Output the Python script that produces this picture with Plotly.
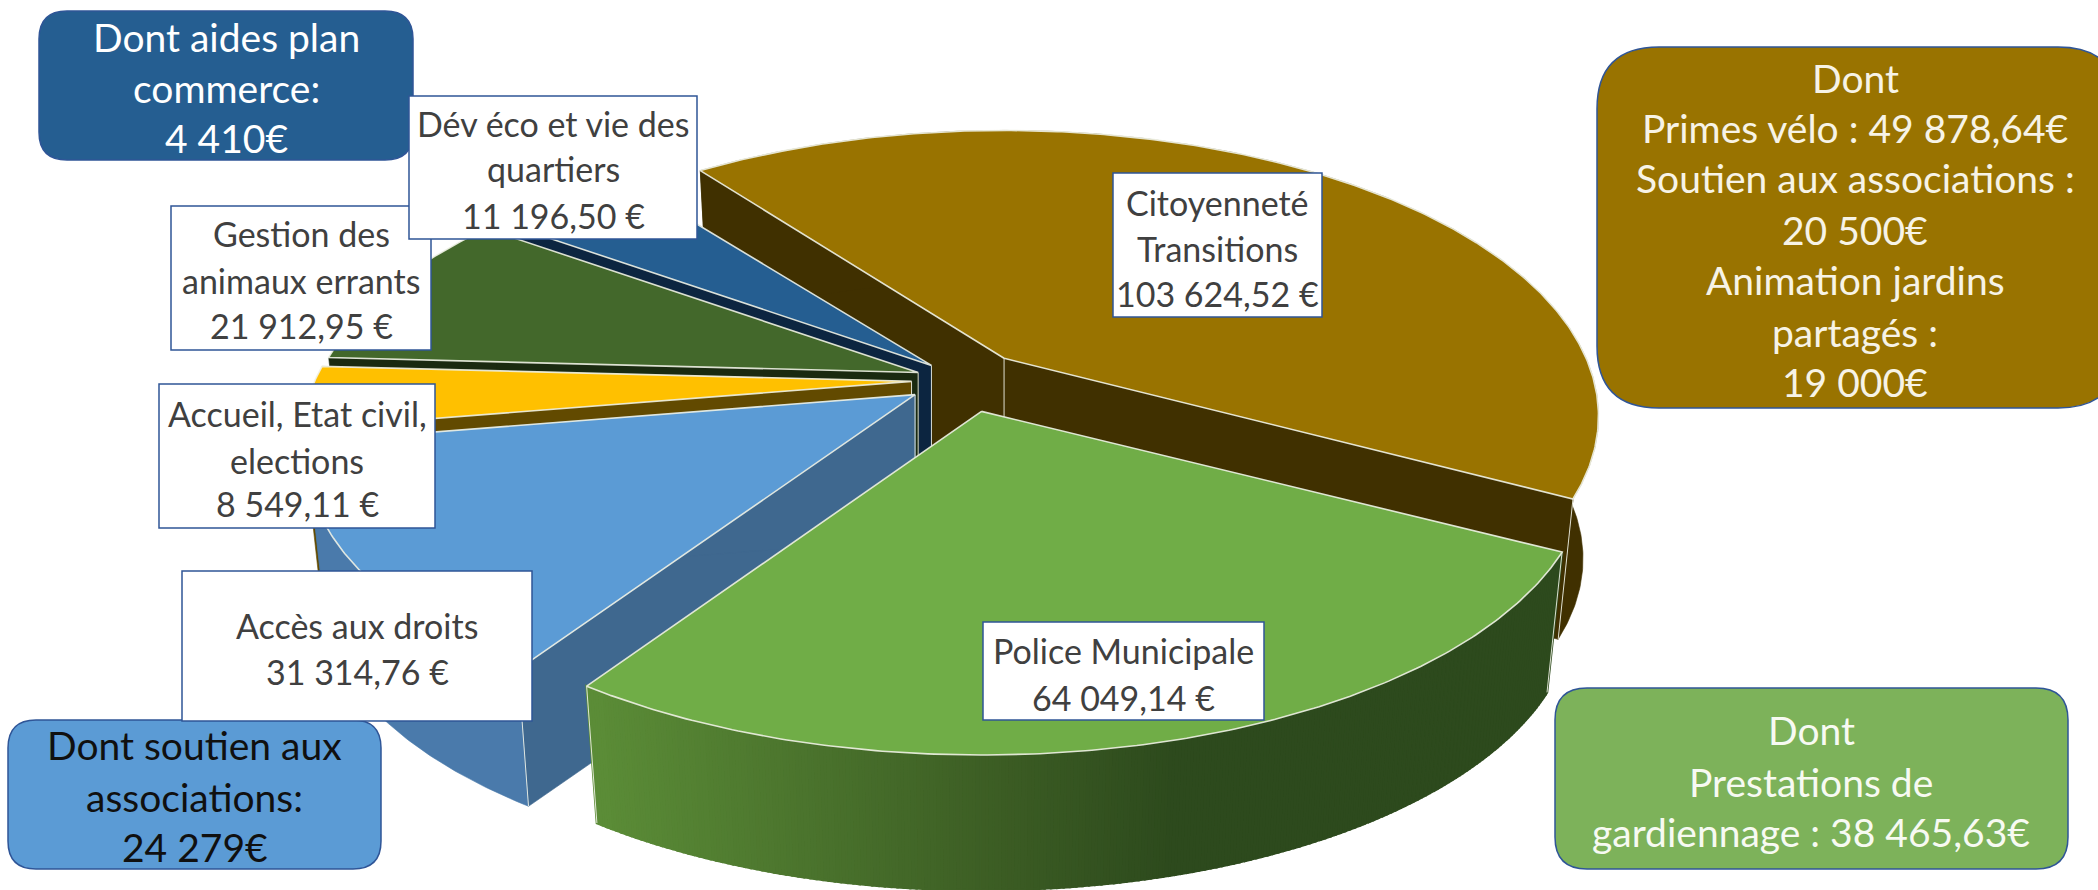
import numpy as np
import plotly.graph_objects as go

# ---------- data ----------
categories = ["Citoyenneté Transitions", "Police Municipale", "Accès aux droits",
              "Accueil, Etat civil, elections", "Gestion des animaux errants",
              "Dév éco et vie des quartiers"]
values = [103624.52, 64049.14, 31314.76, 8549.11, 21912.95, 11196.50]
label_names = [["Citoyenneté", "Transitions"], ["Police Municipale"], ["Accès aux droits"],
               ["Accueil, Etat civil,", "elections"], ["Gestion des", "animaux errants"],
               ["Dév éco et vie des", "quartiers"]]
callout_blue_dark = ["Dont aides plan", "commerce:", "4 410€"]
callout_blue_light = ["Dont soutien aux", "associations:", "24 279€"]
callout_brown = ["Dont", "Primes vélo : 49 878,64€", "Soutien aux associations :",
                 "20 500€", "Animation jardins", "partagés :", "19 000€"]
callout_green = ["Dont", "Prestations de", "gardiennage : 38 465,63€"]

# ---------- styles ----------
top_colors = ["#997300", "#70ad47", "#5b9bd5", "#ffc000", "#43682b", "#255e91"]
face_colors = ["#403000", "#2d4a1d", "#3f688f", "#624a00", "#1a2a10", "#0c2540"]
rim_colors = ["#403000", "gradient", "#4a7aab", None, None, None]
rim_edge_ends = [(-1,), (0, -1), (0,), (), (), ()]
EDGE = "rgba(240,242,230,0.9)"
BORDER = "#2f5597"
TEXT = "#404040"
FONT = "Lato"

# ---------- projection of the exploded 3D pie ----------
START_DEG = -37.3
explode = [0.12, 0.095, 0.087, 0.087, 0.087, 0.087]
perspective_x = [0.975, 0.995, 1.0, 1.0, 1.0, 1.0]
CX, CY, RX, RY, P, DEPTH, SHRINK = 964.0, 380.0, 597.0, 274.0, 0.2027, 144.0, 0.974


def project(theta_deg):
    t = np.radians(theta_deg)
    s = 1.0 / (1.0 + P * np.cos(t))
    return RX * np.sin(t) * s, -RY * np.cos(t) * s


def hex_rgb(h):
    return np.array([int(h[i:i + 2], 16) for i in (1, 3, 5)], float)


def poly(xs, ys, fill, line=None, width=0.0):
    return go.Scatter(x=xs, y=ys, mode="lines", fill="toself", fillcolor=fill,
                      line=dict(color=line or fill, width=width if line else 0.6),
                      hoverinfo="skip", showlegend=False)


fractions = np.array(values) / sum(values) * 360.0
starts = START_DEG + np.concatenate([[0.0], np.cumsum(fractions)[:-1]])
ends = starts + fractions
apexes = []
for a0, a1, e in zip(starts, ends, explode):
    mx, my = project((a0 + a1) / 2)
    apexes.append((CX + e * mx, CY + e * my))

fig = go.Figure()
# back to front: Citoyenneté, then round the left side, Police last
for i in [0, 5, 4, 3, 2, 1]:
    a0, a1 = starts[i], ends[i]
    ax, ay = apexes[i]
    th = np.linspace(a0, a1, max(int(a1 - a0) * 2, 12))
    ox, oy = project(th)
    ox = ox * perspective_x[i]
    tx, ty = ax + ox, ay + oy
    bx, by = ax + ox * SHRINK, ay + oy * SHRINK + DEPTH
    # radial faces
    for k in (0, -1):
        fig.add_trace(poly([ax, tx[k], bx[k], ax, ax], [ay, ty[k], by[k], ay + DEPTH, ay],
                           face_colors[i]))
    # outer rim
    if rim_colors[i] == "gradient":
        c_stops = [hex_rgb(c) for c in ("#5b8c37", "#3c5d24", "#2d4a1d", "#2d4a1d")]
        x_stops = [600, 1000, 1180, 1600]
        for j in range(len(th) - 1):
            xm = (tx[j] + tx[j + 1]) / 2
            rgb = [np.interp(xm, x_stops, [c[n] for c in c_stops]) for n in range(3)]
            col = "rgb(%d,%d,%d)" % tuple(rgb)
            fig.add_trace(go.Scatter(x=[tx[j], tx[j + 1], bx[j + 1], bx[j], tx[j]],
                                     y=[ty[j], ty[j + 1], by[j + 1], by[j], ty[j]],
                                     mode="lines", fill="toself", fillcolor=col,
                                     line=dict(color=col, width=2.5),
                                     hoverinfo="skip", showlegend=False))
    elif rim_colors[i] is not None:
        fig.add_trace(poly(np.r_[tx, bx[::-1], tx[0]], np.r_[ty, by[::-1], ty[0]], rim_colors[i]))
    # vertical edges: at the apex, and at the rim ends that can be seen
    edges = [(ax, ay, ax, ay + DEPTH)] + [(tx[k], ty[k], bx[k], by[k]) for k in rim_edge_ends[i]]
    for ex, ey, fx, fy in edges:
        fig.add_trace(go.Scatter(x=[ex, fx], y=[ey, fy], mode="lines",
                                 line=dict(color=EDGE, width=1), hoverinfo="skip", showlegend=False))
    # top surface
    fig.add_trace(poly(np.r_[ax, tx, ax], np.r_[ay, ty, ay], top_colors[i], EDGE, 1.6))


# ---------- boxes and text ----------
def rounded(x0, y0, x1, y1, r):
    return (f"M{x0 + r},{y0} L{x1 - r},{y0} Q{x1},{y0} {x1},{y0 + r} L{x1},{y1 - r} "
            f"Q{x1},{y1} {x1 - r},{y1} L{x0 + r},{y1} Q{x0},{y1} {x0},{y1 - r} "
            f"L{x0},{y0 + r} Q{x0},{y0} {x0 + r},{y0} Z")


def add_text(lines, cx, ys, size, color):
    for t, y in zip(lines, ys):
        fig.add_annotation(x=cx, y=y, text=t, showarrow=False, xanchor="center", yanchor="middle",
                           font=dict(family=FONT, size=size, color=color))


def callout(lines, box, r, fill, ys, size, color, cx=None):
    x0, y0, x1, y1 = box
    fig.add_shape(type="path", path=rounded(x0, y0, x1, y1, r), fillcolor=fill,
                  line=dict(color=BORDER, width=1.5), layer="above")
    add_text(lines, cx if cx else (x0 + x1) / 2, ys, size, color)


def euro(v):
    return f"{v:,.2f}".replace(",", " ").replace(".", ",") + " €"


callout(callout_blue_dark, (39, 11, 413, 160), 28, "#255e91", [37, 88, 138], 39, "white")
callout(callout_blue_light, (8, 720, 381, 869), 28, "#5b9bd5", [745, 797, 847], 39, "#101010")
callout(callout_brown, (1597, 47, 2120, 408), 62, "#997300", [78, 128, 178, 230, 280, 332, 382],
        39, "#f7f3e6", cx=1855)
callout(callout_green, (1555, 688, 2068, 869), 32, "#7db25a", [730, 782, 832], 39, "#f7faf2", cx=1811)

label_boxes = {0: (1113, 173, 1322, 317), 1: (983, 622, 1264, 720), 2: (182, 571, 532, 721),
               3: (159, 384, 435, 528), 4: (171, 206, 431, 350), 5: (409, 96, 697, 239)}
label_ys = {0: [202, 248, 293], 1: [650, 697], 2: [625, 671],
            3: [413, 460, 503], 4: [233, 280, 325], 5: [123, 168, 215]}
for i in [4, 3, 2, 5, 0, 1]:
    x0, y0, x1, y1 = label_boxes[i]
    fig.add_shape(type="rect", x0=x0, y0=y0, x1=x1, y1=y1, fillcolor="white",
                  line=dict(color=BORDER, width=1.5), layer="above")
    add_text(label_names[i] + [euro(values[i])], (x0 + x1) / 2, label_ys[i], 34, TEXT)

fig.update_layout(
    width=2098, height=890, autosize=False, margin=dict(l=0, r=0, t=0, b=0),
    paper_bgcolor="white", plot_bgcolor="white", showlegend=False,
    xaxis=dict(range=[0, 2098], visible=False, fixedrange=True),
    yaxis=dict(range=[890, 0], visible=False, fixedrange=True),
)
fig.write_html("out.html", config={"displayModeBar": False},
               post_script="document.body.style.margin='0';document.documentElement.style.overflow='hidden';")
